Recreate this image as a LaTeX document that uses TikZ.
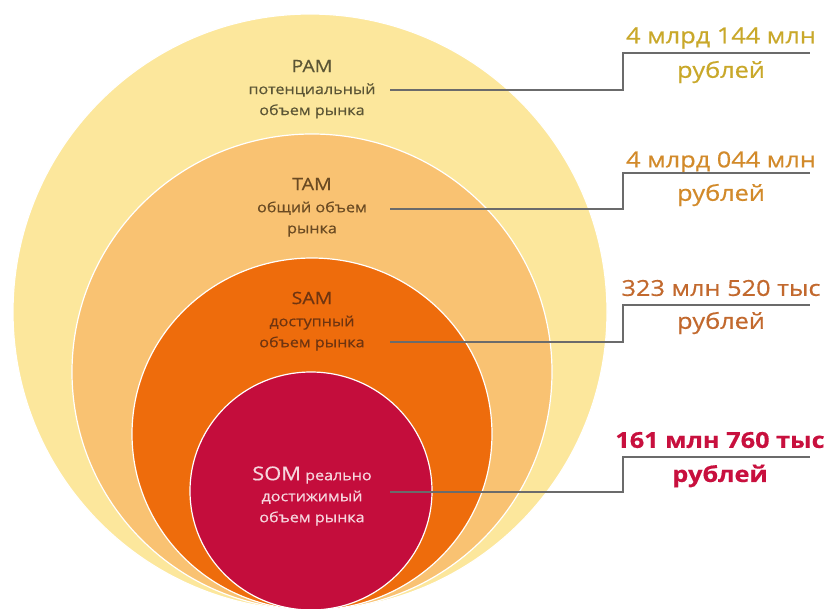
\documentclass[tikz,border=0pt]{standalone}
\usepackage{fontspec}
\setmainfont{Open Sans}[FakeStretch=1.15,FakeBold=0.5]
\usepackage{tikz}
\usetikzlibrary{positioning}
\definecolor{pamfill}{HTML}{FCE79C}
\definecolor{tamfill}{HTML}{F9C272}
\definecolor{samfill}{HTML}{EE6C0C}
\definecolor{somfill}{HTML}{C40D3C}
\definecolor{pamtext}{HTML}{5B5535}
\definecolor{tamtext}{HTML}{6A4A22}
\definecolor{samtext}{HTML}{6E3410}
\definecolor{somtext}{HTML}{F6D6DE}
\definecolor{pamval}{HTML}{C9A82A}
\definecolor{tamval}{HTML}{D28A2A}
\definecolor{samval}{HTML}{C2692E}
\definecolor{somval}{HTML}{C8103E}
\definecolor{leadgray}{HTML}{6B6B6B}
\tikzset{
zone/.style={draw=white,line width=1.2pt},
zonetitle/.style={inner sep=1pt,font=\fontsize{17}{20}\selectfont},
zonetext/.style={inner sep=1pt,align=center,font=\fontsize{14}{21}\selectfont},
leader/.style={draw=leadgray,line width=1.6pt},
valtext/.style={inner sep=1pt,font=\fontsize{22}{24}\selectfont},
node distance=9pt}

\begin{document}
\begin{tikzpicture}[x=1pt,y=-1pt]

      \useasboundingbox (0,0) rectangle (826,608);
      \clip (0,0) rectangle (826,608);
      \fill[white] (0,0) rectangle (826,608);

      \draw[zone,fill=pamfill] (310,312) ellipse [x radius=297,y radius=298];
      \draw[zone,fill=tamfill] (312,372) ellipse [x radius=240,y radius=238];
      \draw[zone,fill=samfill] (312,434) ellipse [x radius=180,y radius=176];
      \draw[zone,fill=somfill] (311,491) ellipse [x radius=121,y radius=119];

      \node[zonetitle,text=pamtext] (pam) at (312,66) {PAM};
      \node[zonetext,text=pamtext,below=of pam] (pamtxt) {потенциальный\\объем рынка};
      \node[zonetitle,text=tamtext] (tam) at (312,184) {TAM};
      \node[zonetext,text=tamtext,below=of tam] (tamtxt) {общий объем\\рынка};
      \node[zonetitle,text=samtext] (sam) at (312,298) {SAM};
      \node[zonetext,text=samtext,below=of sam] (samtxt) {доступный\\объем рынка};
      \node[zonetext,text=somtext] (somtxt) at (312,496) {{\fontsize{19}{20}\selectfont SOM} реально\\достижимый\\объем рынка};

      \node[valtext,text=pamval] (pamsum) at (721,38) {4 млрд 144 млн};
      \node[valtext,text=pamval] (pamrub) at (721,72) {рублей};
      \node[valtext,text=tamval] (tamsum) at (721,162) {4 млрд 044 млн};
      \node[valtext,text=tamval] (tamrub) at (721,195) {рублей};
      \node[valtext,text=samval] (samsum) at (721,288) {323 млн 520 тыс};
      \node[valtext,text=samval] (samrub) at (721,323) {рублей};
      \node[valtext,text=somval,font=\fontsize{22}{24}\bfseries] (somsum) at (720,440) {161 млн 760 тыс};
      \node[valtext,text=somval,font=\fontsize{22}{24}\bfseries] (somrub) at (720,476) {рублей};

      \coordinate (pam-a) at (390,90);  \coordinate (pam-b) at (623,53);  \coordinate (pam-c) at (810,53);
      \coordinate (tam-a) at (390,209); \coordinate (tam-b) at (623,173); \coordinate (tam-c) at (810,173);
      \coordinate (sam-a) at (390,342); \coordinate (sam-b) at (623,305); \coordinate (sam-c) at (810,305);
      \coordinate (som-a) at (390,492); \coordinate (som-b) at (623,457); \coordinate (som-c) at (810,457);

      \draw[leader] (pam-a) -| (pam-b) -- (pam-c);
      \draw[leader] (tam-a) -| (tam-b) -- (tam-c);
      \draw[leader] (sam-a) -| (sam-b) -- (sam-c);
      \draw[leader] (som-a) -| (som-b) -- (som-c);
\end{tikzpicture}
\end{document}
